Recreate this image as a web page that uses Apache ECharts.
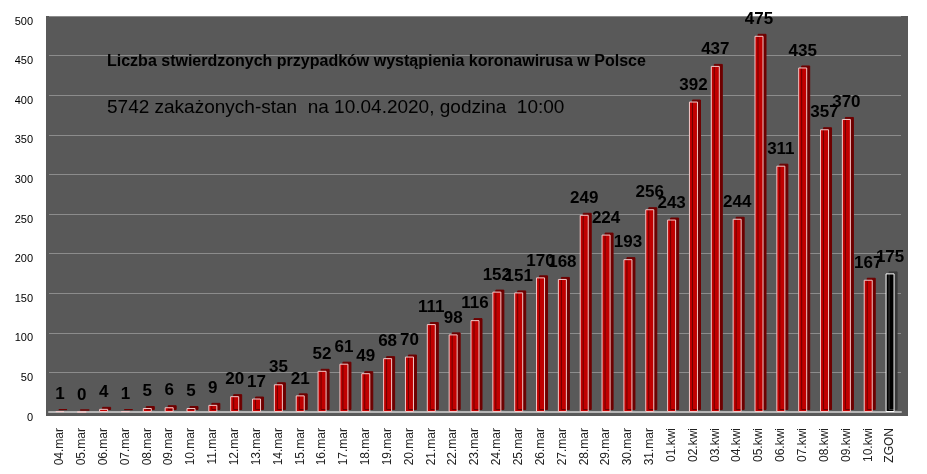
<!DOCTYPE html>
<html>
<head>
<meta charset="utf-8">
<script src="https://cdn.jsdelivr.net/npm/echarts@6/dist/echarts.min.js"></script>
<style>
  html, body { margin: 0; padding: 0; background: #fff; }
  #chart { width: 927px; height: 474px; }
</style>
</head>
<body>
<div id="chart"></div>
<script>
var days = ["04.mar", "05.mar", "06.mar", "07.mar", "08.mar", "09.mar", "10.mar", "11.mar",
    "12.mar", "13.mar", "14.mar", "15.mar", "16.mar", "17.mar", "18.mar", "19.mar", "20.mar",
    "21.mar", "22.mar", "23.mar", "24.mar", "25.mar", "26.mar", "27.mar", "28.mar", "29.mar",
    "30.mar", "31.mar", "01.kwi", "02.kwi", "03.kwi", "04.kwi", "05.kwi", "06.kwi", "07.kwi",
    "08.kwi", "09.kwi", "10.kwi", "ZGON"];
var cases = [1, 0, 4, 1, 5, 6, 5, 9, 20, 17, 35, 21, 52, 61, 49, 68, 70, 111, 98, 116, 152,
    151, 170, 168, 249, 224, 193, 256, 243, 392, 437, 244, 475, 311, 435, 357, 370, 167, 175];
var title_1 = "Liczba stwierdzonych przypadków wystąpienia koronawirusa w Polsce";
var title_2 = "5742 zakażonych-stan  na 10.04.2020, godzina  10:00";

// ZGON bar is black, the rest red
var bar_data = [];
for (var i = 0; i < cases.length; i++) {
    if (days[i] == "ZGON") {
        bar_data.push({
            value: cases[i],
            itemStyle: { color: "#000000", borderColor: "#ffffff", shadowColor: "#3a3a3a" }
        });
    } else {
        bar_data.push(cases[i]);
    }
}

var option = {
    animation: false,
    backgroundColor: "#ffffff",
    textStyle: { fontFamily: "Liberation Sans" },
    graphic: [
        {
            type: "rect",
            z: -10,
            silent: true,
            shape: { x: 46, y: 16, width: 862, height: 400 },
            style: { fill: "#595959" }
        }
    ],
    title: [
        {
            text: title_1,
            left: 102, top: 49,
            textStyle: { fontSize: 16, fontWeight: "bold", color: "#000", fontFamily: "Liberation Sans" }
        },
        {
            text: title_2,
            left: 102, top: 93,
            textStyle: { fontSize: 19, fontWeight: "normal", color: "#000", fontFamily: "Liberation Sans" }
        }
    ],
    grid: {
        left: 49,
        right: 26,
        top: 16,
        bottom: 62
    },
    xAxis: {
        type: "category",
        data: days,
        axisTick: { show: false },
        axisLine: { lineStyle: { color: "#b5b5b5", width: 2 } },
        axisLabel: {
            rotate: 90,
            interval: 0,
            margin: 16,
            fontSize: 12,
            color: "#222"
        }
    },
    yAxis: {
        type: "value",
        min: 0,
        max: 500,
        interval: 50,
        axisLine: { show: false },
        axisTick: { show: false },
        splitLine: { lineStyle: { color: "#8c8c8c", width: 1 } },
        axisLabel: {
            fontSize: 11,
            color: "#000",
            margin: 16,
            verticalAlign: "top"
        }
    },
    series: [
        {
            name: "przypadki",
            type: "bar",
            barWidth: 9,
            data: bar_data,
            itemStyle: {
                color: "#c00000",
                borderColor: "#f4c9c9",
                borderWidth: 1,
                shadowColor: "#6e0000",
                shadowBlur: 0,
                shadowOffsetX: 3,
                shadowOffsetY: -2
            },
            label: {
                show: true,
                position: "top",
                distance: 8,
                fontSize: 17,
                fontWeight: "bold",
                color: "#000",
                fontFamily: "Liberation Sans"
            }
        }
    ]
};

var myChart = echarts.init(document.getElementById("chart"));
myChart.setOption(option);
</script>
</body>
</html>
